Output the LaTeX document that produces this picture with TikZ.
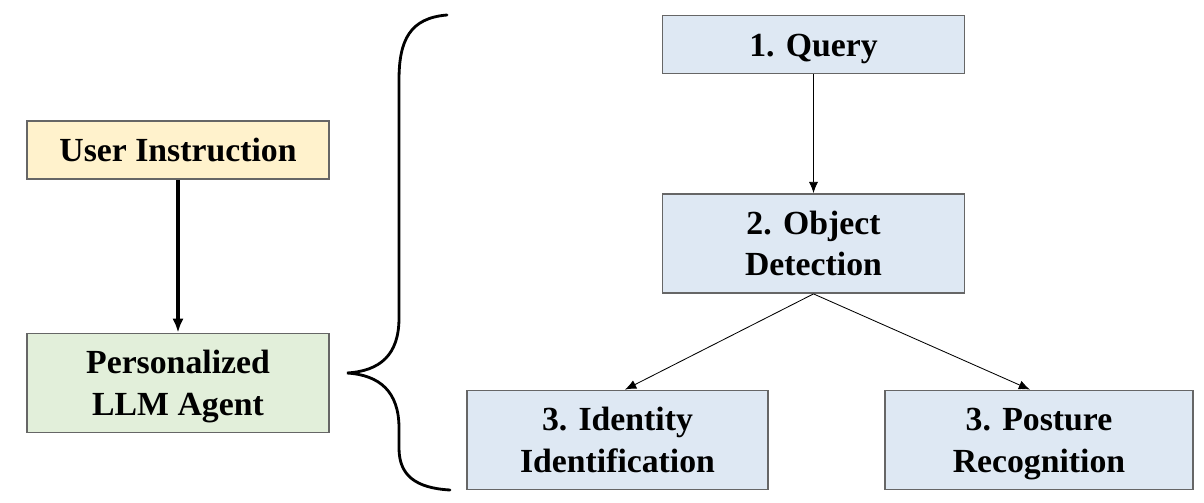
\documentclass[tikz,border=0pt]{standalone}
\usepackage{fontspec}
\setmainfont{Liberation Serif}
\usetikzlibrary{arrows.meta}

\definecolor{instrfill}{HTML}{FFF2CC}
\definecolor{agentfill}{HTML}{E2EFDA}
\definecolor{stepfill}{HTML}{DEE8F3}

\begin{document}
\begin{tikzpicture}[
  x=0.025cm, y=-0.025cm,
  every node/.style={draw=gray!80!black, line width=1.1pt, align=center, inner sep=0pt,
    font=\fontsize{24}{29.5}\selectfont\bfseries},
  flatbox/.style={minimum width=7.55cm, minimum height=1.45cm, text height=17pt, text depth=0pt},
  tallbox/.style={minimum width=7.55cm, minimum height=2.48cm, text height=46pt, text depth=0pt},
  thinarrow/.style={draw, -{Latex[length=8pt,width=6.5pt]}, line width=0.6pt},
  thickarrow/.style={draw, -{Latex[length=10pt,width=8pt]}, line width=2.6pt}
]
\useasboundingbox (0,0) rectangle (1204,502);

% left column
\node[flatbox, fill=instrfill] (instr) at (178,150) {User Instruction};
\node[tallbox, fill=agentfill] (agent) at (178,383) {Personalized\\LLM Agent};
\draw[thickarrow] (instr) -- (agent);

% brace
\coordinate (tip) at (347,373);
\draw[line width=2pt, line cap=round]
  (447,15) .. controls (410,18) and (399,40) .. (399,80)
  -- (399,318) .. controls (399,355) and (380,371) .. (tip)
  .. controls (380,375) and (399,392) .. (399,428)
  -- (399,448) .. controls (399,475) and (415,488) .. (450,490);

% right column
\node[flatbox, fill=stepfill] (query) at (813.5,44.5) {1. Query};
\node[tallbox, fill=stepfill] (detect) at (813.5,243.5) {2. Object\\Detection};
\node[tallbox, fill=stepfill, minimum width=7.52cm] (ident) at (617.5,440) {3. Identity\\Identification};
\node[tallbox, fill=stepfill, minimum width=7.7cm] (posture) at (1039,440) {3. Posture\\Recognition};

\draw[thinarrow] (query) -- (detect);
\draw[thinarrow] (detect.south) -- (ident.north -| 625,0);
\draw[thinarrow] (detect.south) -- (posture.north -| 1030,0);
\end{tikzpicture}
\end{document}
